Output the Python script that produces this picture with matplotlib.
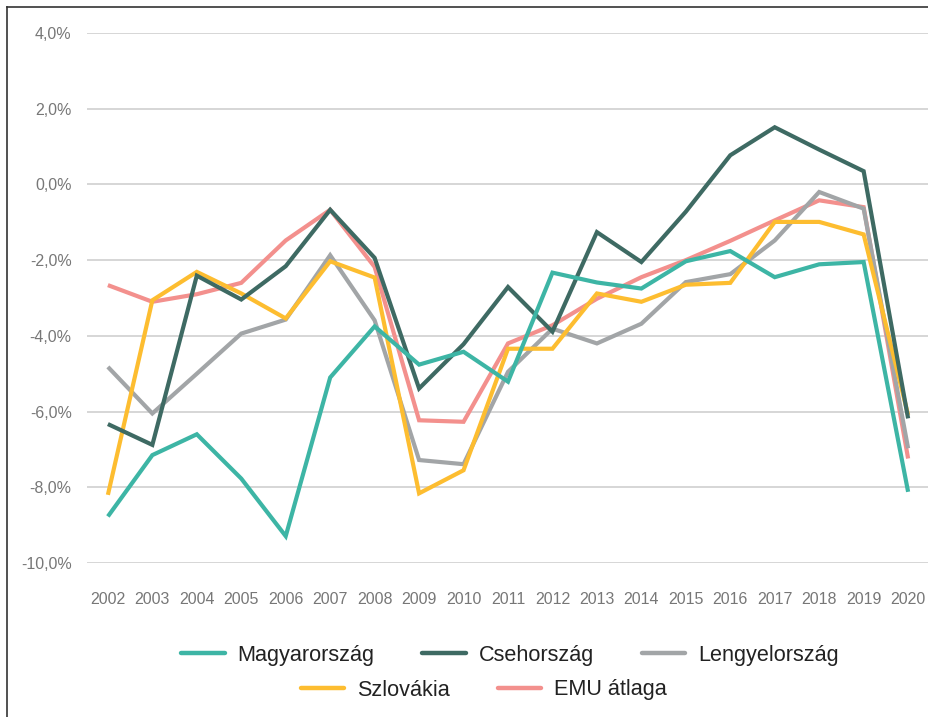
import matplotlib
matplotlib.use('Agg')
import matplotlib.pyplot as plt
from matplotlib.lines import Line2D
from matplotlib.ticker import FuncFormatter

plt.rcParams['font.family'] = ['Liberation Sans', 'DejaVu Sans']

years = list(range(2002, 2021))
magyar = [-8.77, -7.15, -6.60, -7.77, -9.29, -5.10, -3.75, -4.76, -4.42, -5.21,
          -2.33, -2.59, -2.75, -2.03, -1.76, -2.45, -2.11, -2.05, -8.12]
cseh = [-6.33, -6.88, -2.41, -3.04, -2.16, -0.67, -1.94, -5.39, -4.22, -2.71,
        -3.89, -1.26, -2.05, -0.72, 0.77, 1.51, 0.92, 0.35, -6.18]
lengyel = [-4.82, -6.05, -5.00, -3.94, -3.57, -1.87, -3.59, -7.28, -7.39, -4.95,
           -3.81, -4.20, -3.68, -2.58, -2.37, -1.48, -0.20, -0.64, -6.97]
szlovak = [-8.20, -3.06, -2.31, -2.88, -3.54, -2.03, -2.46, -8.16, -7.55, -4.34,
           -4.34, -2.88, -3.10, -2.65, -2.60, -0.99, -0.99, -1.32, -6.09]
emu = [-2.66, -3.10, -2.90, -2.60, -1.48, -0.67, -2.18, -6.23, -6.27, -4.20,
       -3.72, -3.02, -2.45, -2.00, -1.49, -0.95, -0.42, -0.60, -7.24]

names = ['Magyarország', 'Csehország', 'Lengyelország', 'Szlovákia', 'EMU átlaga']
colors = ['#3db5a5', '#3e6a63', '#a2a5a7', '#fdbd30', '#f3908d']
series = [magyar, cseh, lengyel, szlovak, emu]

W, H = 929, 717
fig = plt.figure(figsize=(W / 100, H / 100), dpi=100)
ax = fig.add_axes([87 / W, 1 - 563 / H, 1 - 87 / W, (563 - 33) / H])

# pink at the bottom, teal on top
order = [4, 2, 3, 1, 0]
for i in order:
    ax.plot(years, series[i], color=colors[i], lw=3.0, solid_joinstyle='miter',
            solid_capstyle='butt', zorder=3)

ax.set_ylim(-10, 4)
ax.set_xlim(2002 - 0.47, 2020 + 0.47)
ax.set_yticks(range(-10, 5, 2))
ax.set_xticks(years)
ax.yaxis.set_major_formatter(FuncFormatter(lambda v, p: f'{v:.1f}%'.replace('.', ',')))
ax.grid(axis='y', color='#d6d6d6', lw=1.4)
ax.set_axisbelow(True)
for s in ax.spines.values():
    s.set_visible(False)
ax.tick_params(length=0, labelsize=11.5, colors='#777777')
ax.tick_params(axis='y', pad=11)
ax.tick_params(axis='x', pad=21)

handles = [Line2D([], [], color=c, lw=3.2, solid_capstyle='round') for c in colors]
kw = dict(frameon=False, fontsize=15.6, handlelength=2.0, handletextpad=0.6,
          columnspacing=2.2, labelcolor='#222222', borderpad=0, borderaxespad=0)
fig.legend(handles[:3], names[:3], loc='center', ncol=3,
           bbox_to_anchor=(510 / W, 1 - 655 / H), **kw)
fig.legend(handles[3:], names[3:], loc='center', ncol=2,
           bbox_to_anchor=(484 / W, 1 - 690 / H), **kw)

# frame on the left and top
fig.add_artist(Line2D([7 / W, 7 / W], [0, 1 - 7 / H], color='#333333', lw=1.2,
                      transform=fig.transFigure))
fig.add_artist(Line2D([7 / W, 1], [1 - 7 / H, 1 - 7 / H], color='#333333', lw=1.2,
                      transform=fig.transFigure))

fig.savefig('out.png', dpi=100, facecolor='white')
